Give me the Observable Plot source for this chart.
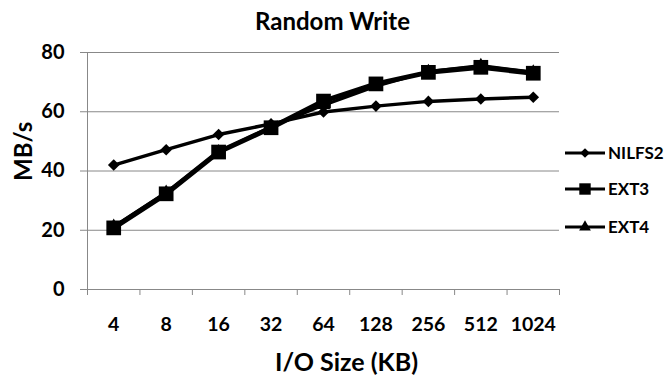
<!DOCTYPE html>
<html><head><meta charset="utf-8">
<script src="https://cdn.jsdelivr.net/npm/d3@7"></script>
<script src="https://cdn.jsdelivr.net/npm/@observablehq/plot@0.6"></script>
<style>
body{margin:0;background:#fff;}
#wrap{position:relative;width:664px;height:375px;font-family:Lato,"Open Sans",sans-serif;}
#legend{position:absolute;left:0;top:0;}
</style></head>
<body><div id="wrap"></div>
<script>
const sizes = ["4","8","16","32","64","128","256","512","1024"];
const nilfs2 = [42, 47.2, 52.3, 55.9, 59.9, 61.9, 63.5, 64.3, 64.9];
const ext3 = [20.8, 32.3, 46.4, 54.6, 63.6, 69.4, 73.3, 75.0, 73.0];
const ext4 = [21.3, 32.8, 46.5, 54.9, 62.2, 68.6, 73.6, 75.6, 73.4];
const yTicks = [0, 20, 40, 60, 80];
const seriesNames = ["NILFS2", "EXT3", "EXT4"];

const rows = (vals, name) => vals.map((v, i) => ({i, v, name}));
const dN = rows(nilfs2, "NILFS2"), d3s = rows(ext3, "EXT3"), d4 = rows(ext4, "EXT4");
const idx = d3.range(sizes.length);
const bounds = d3.range(sizes.length + 1).map(k => k - 0.5);
const FF = "Lato, 'Open Sans', sans-serif";

const chart = Plot.plot({
  width: 664, height: 375,
  marginLeft: 87, marginRight: 105, marginTop: 52, marginBottom: 86,
  style: {fontFamily: FF, background: "white"},
  x: {domain: [-0.5, sizes.length - 0.5]},
  y: {domain: [0, 80]},
  marks: [
    Plot.ruleY(yTicks, {stroke: "#888", strokeWidth: 1}),
    Plot.axisY({ticks: yTicks, tickSize: 7, stroke: "#888", tickPadding: 16, fontSize: 20, fontWeight: "bold", fill: "black", label: null}),
    Plot.ruleX([-0.5], {stroke: "#888"}),
    Plot.axisX({ticks: bounds, tickSize: 6, stroke: "#888", tickFormat: () => "", label: null}),
    Plot.axisX({ticks: idx, tickSize: 0, tickPadding: 28, tickFormat: i => sizes[i], fontSize: 19.5, fontWeight: "bold", fill: "black", label: null}),
    Plot.lineY(d4, {x: "i", y: "v", stroke: "black", strokeWidth: 3}),
    Plot.dot(d4, {x: "i", y: "v", symbol: "triangle", r: 5, fill: "black"}),
    Plot.lineY(d3s, {x: "i", y: "v", stroke: "black", strokeWidth: 5}),
    Plot.dot(d3s, {x: "i", y: "v", symbol: "square", r: 8.3, fill: "black"}),
    Plot.lineY(dN, {x: "i", y: "v", stroke: "black", strokeWidth: 3.5}),
    Plot.dot(dN, {x: "i", y: "v", symbol: "diamond2", r: 5.2, fill: "black"}),
    Plot.text(["Random Write"], {frameAnchor: "top", lineAnchor: "middle", dy: -30, dx: 9, fontSize: 24, fontWeight: "bold", fill: "black"}),
    Plot.text(["I/O Size (KB)"], {frameAnchor: "bottom", lineAnchor: "middle", dy: 73, dx: 23, fontSize: 25, fontWeight: "bold", fill: "black"}),
    Plot.text(["MB/s"], {frameAnchor: "left", lineAnchor: "middle", dx: -63, dy: 10, rotate: -90, fontSize: 24, fontWeight: "bold", fill: "black"})
  ]
});
document.getElementById("wrap").appendChild(chart);

// legend
const lg = d3.select("#wrap").append("svg").attr("id", "legend").attr("width", 664).attr("height", 375);
const lx0 = 565, lx1 = 605, ly = [153, 189, 227];
seriesNames.forEach((n, k) => {
  const g = lg.append("g").attr("transform", `translate(0,${ly[k]})`);
  g.append("line").attr("x1", lx0).attr("x2", lx1).attr("stroke", "black").attr("stroke-width", 3);
  const cx = (lx0 + lx1) / 2;
  if (k === 0) g.append("path").attr("d", d3.symbol(d3.symbolDiamond2, 60)()).attr("transform", `translate(${cx},0)`);
  if (k === 1) g.append("path").attr("d", d3.symbol(d3.symbolSquare, 130)()).attr("transform", `translate(${cx},0)`);
  if (k === 2) g.append("path").attr("d", d3.symbol(d3.symbolTriangle, 60)()).attr("transform", `translate(${cx},0)`);
  g.append("text").attr("x", lx1 + 3).attr("dy", "0.36em").attr("font-size", 17).attr("font-weight", "bold").attr("font-family", FF).text(n);
});
</script></body></html>
